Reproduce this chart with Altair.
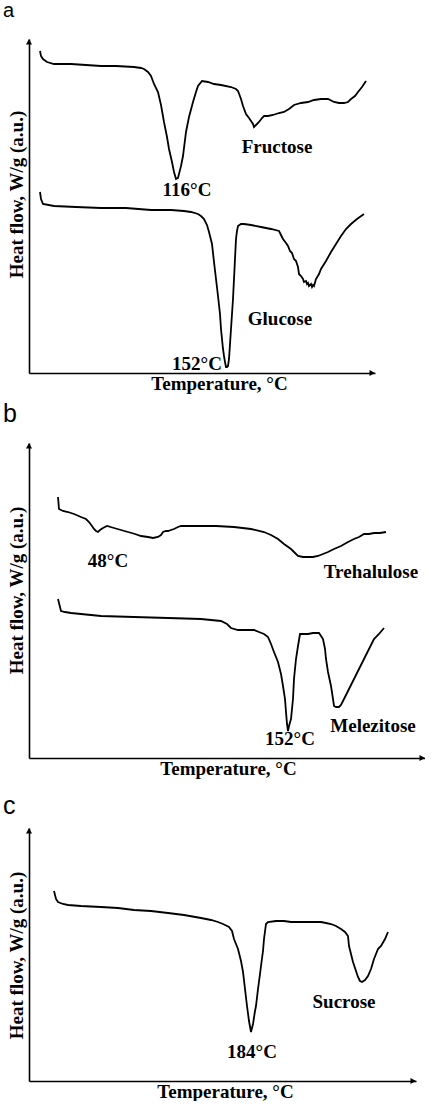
import altair as alt
import pandas as pd

# ---- Panel a (arbitrary units; axes carry no ticks) ----
fructose_x = [11,12,14,18,25,42,57,72,87,105,112,115,119,122,125,129,132,135,138,140,143,145,147,149,152,154,157,160,164,167,169,173,179,185,192,202,207,209,212,214,217,220,222,224,225,227,230,233,235,239,244,250,255,260,265,272,279,285,292,299,305,310,315,319,322,326,329,333,337]
fructose_y = [322,317,314,311,309,309,308,307,307,306,305,304,301,297,289,281,268,251,236,224,211,201,194,195,207,217,241,256,271,281,287,292,291,289,288,286,284,282,274,267,259,255,252,249,246,248,251,255,257,257,258,260,261,264,268,270,271,273,274,274,271,270,270,271,274,277,281,286,292]
glucose_x = [11,12,14,25,47,72,97,122,142,155,162,169,172,175,178,180,183,185,187,189,191,192,194,195,196,197,198,199,200,202,204,205,206,207,208,209,212,215,222,232,242,250,252,254,257,259,261,263,265,267,269,270,272,274,275,277,278,279,280,282,283,284,285,287,290,292,297,302,307,312,317,322,328,335]
glucose_y = [181,174,169,167,166,165,165,163,163,162,161,159,157,154,148,141,129,111,94,77,59,44,24,17,11,6,6,7,14,44,74,94,114,134,142,147,149,149,148,146,144,142,138,134,130,127,122,120,114,112,106,99,97,94,91,92,89,90,87,89,86,88,87,94,99,104,112,121,129,137,144,149,154,159]
labels_a = ["116°C", "Fructose", "152°C", "Glucose"]
labels_a_x = [158, 248, 168, 251]
labels_a_y = [183, 226, 9, 54]

# ---- Panel b ----
trehalulose_x = [29,30,34,39,45,52,57,60,63,65,67,69,71,74,78,85,92,99,106,112,119,124,129,132,134,137,139,142,145,149,152,162,172,187,205,222,235,242,249,255,262,266,269,274,279,284,289,294,299,305,312,319,325,330,335,340,345,351,357]
trehalulose_y = [261,249,247,246,244,241,239,236,232,229,227,226,228,230,232,230,228,226,224,222,221,220,221,223,226,227,227,228,229,231,232,232,232,232,231,229,226,223,219,214,209,205,202,201,201,201,202,204,206,209,212,216,219,221,224,224,225,225,226]
melezitose_x = [29,32,36,42,52,72,105,139,172,182,192,198,202,209,217,225,230,235,239,242,245,249,252,254,256,257,258,259,260,262,264,265,267,269,271,275,279,284,290,292,294,296,297,299,302,304,305,307,310,312,315,320,325,330,335,340,345,350,355]
melezitose_y = [159,147,146,145,144,142,141,140,139,138,137,134,130,128,128,128,126,124,121,114,106,96,84,72,59,46,34,27,32,39,59,79,99,112,124,124,124,125,125,122,119,109,99,86,72,59,52,51,51,53,59,69,79,89,99,109,119,124,130]
labels_b = ["48°C", "Trehalulose", "152°C", "Melezitose"]
labels_b_x = [79, 342, 261, 344]
labels_b_y = [197, 186, 19, 32]

# ---- Panel c ----
sucrose_x = [25,27,29,34,39,52,72,89,105,122,139,155,172,182,189,194,200,203,205,207,209,212,214,216,218,220,222,224,226,227,229,231,232,234,235,237,239,247,255,262,272,282,292,297,302,307,312,316,319,320,322,324,327,329,331,333,336,339,342,345,349,352,356,359]
sucrose_y = [190,182,179,177,176,175,174,173,171,170,168,166,163,161,159,157,154,150,142,137,132,120,109,92,75,60,49,57,70,75,92,107,115,130,142,157,159,160,160,159,159,159,159,158,157,155,152,149,145,135,127,119,110,104,100,99,101,105,112,122,132,135,142,149]
labels_c = ["184°C", "Sucrose"]
labels_c_x = [223, 315]
labels_c_y = [29, 79]

X_TITLE = "Temperature, °C"
Y_TITLE = "Heat flow, W/g (a.u.)"
SERIF = "Liberation Serif"
SANS = "Liberation Sans"
UP_ARROW = "M0,0L-0.6,1.1L0.6,1.1Z"
RIGHT_ARROW = "M0,0L-1.1,-0.6L-1.1,0.6Z"


def curves_df(pairs):
    rows = []
    for name, xs, ys in pairs:
        for i, (x, y) in enumerate(zip(xs, ys)):
            rows.append({"series": name, "i": i, "x": x, "y": y})
    return pd.DataFrame(rows)


def panel(letter, letter_size, letter_rise, W, H, pairs, labels, lx, ly, title_x, title_y):
    xsc = alt.Scale(domain=[0, W], nice=False, zero=False)
    ysc = alt.Scale(domain=[0, H], nice=False, zero=False)
    xax = alt.Axis(title=X_TITLE, ticks=False, labels=False, grid=False,
                   domainColor="black", domainWidth=1.6,
                   titleFont=SERIF, titleFontSize=19, titleFontWeight="bold",
                   titleColor="black", titlePadding=1, titleX=title_x,
                   titleAlign="center", titleBaseline="top")
    yax = alt.Axis(title=Y_TITLE, ticks=False, labels=False, grid=False,
                   domainColor="black", domainWidth=1.6,
                   titleFont=SERIF, titleFontSize=19, titleFontWeight="bold",
                   titleColor="black", titlePadding=3, titleY=title_y,
                   titleAlign="center")
    base_curves = alt.Chart(curves_df(pairs)).mark_line(
        color="black", strokeWidth=1.8
    ).encode(
        x=alt.X("x:Q", scale=xsc, axis=xax),
        y=alt.Y("y:Q", scale=ysc, axis=yax),
        detail="series:N",
        order="i:Q",
    )
    text = alt.Chart(pd.DataFrame({"x": lx, "y": ly, "t": labels})).mark_text(
        font=SERIF, fontSize=19, fontWeight="bold", color="black",
        align="center", baseline="middle"
    ).encode(x=alt.X("x:Q", scale=xsc), y=alt.Y("y:Q", scale=ysc), text="t:N")
    tag = alt.Chart(pd.DataFrame({"x": [-26], "y": [H + letter_rise], "t": [letter]})).mark_text(
        font=SANS, fontSize=letter_size, color="black", align="left", baseline="alphabetic"
    ).encode(x=alt.X("x:Q", scale=xsc), y=alt.Y("y:Q", scale=ysc), text="t:N")
    up = alt.Chart(pd.DataFrame({"x": [0], "y": [H]})).mark_point(
        shape=UP_ARROW, filled=True, size=100, color="black", opacity=1
    ).encode(x=alt.X("x:Q", scale=xsc), y=alt.Y("y:Q", scale=ysc))
    right = alt.Chart(pd.DataFrame({"x": [W], "y": [0]})).mark_point(
        shape=RIGHT_ARROW, filled=True, size=100, color="black", opacity=1
    ).encode(x=alt.X("x:Q", scale=xsc), y=alt.Y("y:Q", scale=ysc))
    return alt.layer(base_curves, text, tag, up, right).properties(width=W, height=H)


pa = panel("a", 20, 22, 346, 334,
           [("Fructose", fructose_x, fructose_y), ("Glucose", glucose_x, glucose_y)],
           labels_a, labels_a_x, labels_a_y, 190, 155)
pb = panel("b", 25, 21, 396, 315,
           [("Trehalulose", trehalulose_x, trehalulose_y), ("Melezitose", melezitose_x, melezitose_y)],
           labels_b, labels_b_x, labels_b_y, 199, 147)
pc = panel("c", 25, 14, 387, 253,
           [("Sucrose", sucrose_x, sucrose_y)],
           labels_c, labels_c_x, labels_c_y, 196, 127)

chart = alt.vconcat(pa, pb, pc, spacing=70, bounds="flush").properties(
    padding={"left": 2, "top": 1, "right": 0, "bottom": 0},
    background="white",
).configure_view(strokeWidth=0)

chart.save("out.html", embed_options={"renderer": "svg", "actions": False})
